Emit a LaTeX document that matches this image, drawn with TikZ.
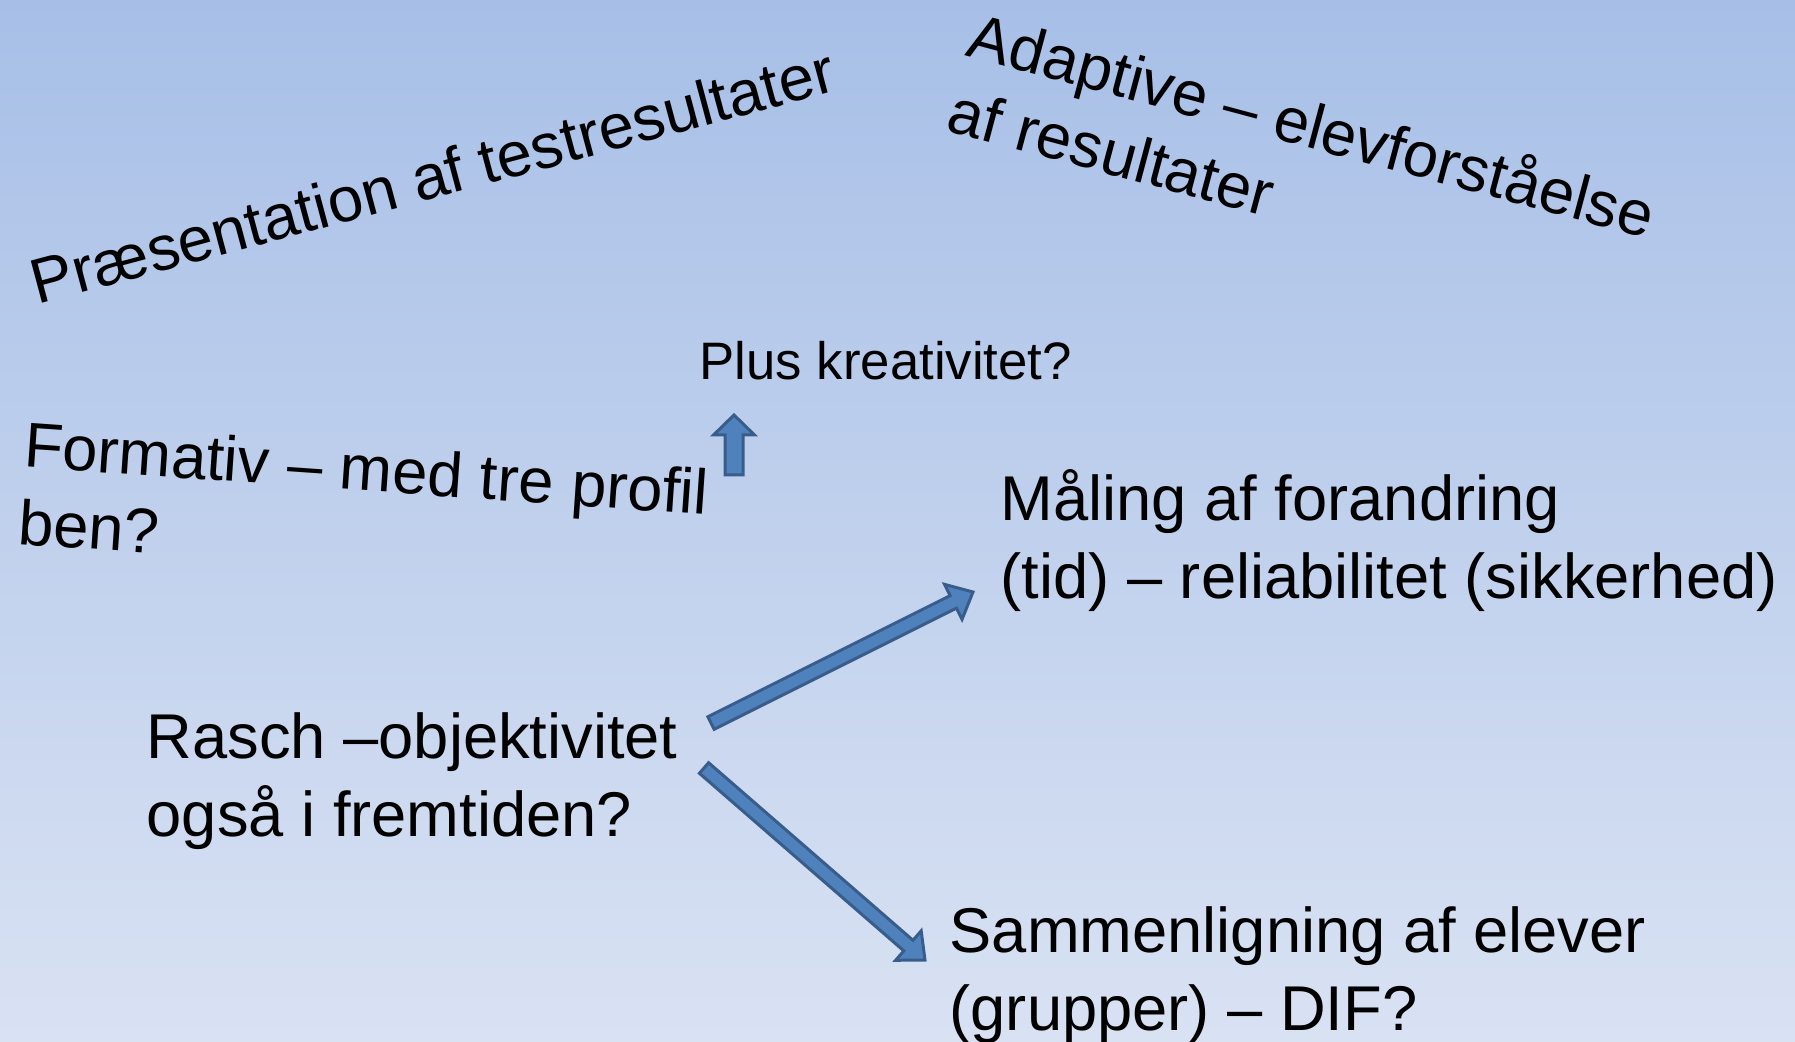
\documentclass[tikz,border=0pt]{standalone}
\usepackage{fontspec}
\setmainfont{Liberation Sans}
\usepackage{tikz}
\usepackage{xcolor}
\usetikzlibrary{calc}

\definecolor{bgtop}{RGB}{167,191,231}
\definecolor{bgbottom}{RGB}{217,226,243}
\definecolor{arrowfill}{RGB}{79,129,189}
\definecolor{arrowline}{RGB}{56,93,138}

\tikzset{
  bigtext/.style={inner sep=0pt, anchor=base west, align=left,
    font=\fontsize{18}{22}\selectfont},
  smalltext/.style={inner sep=0pt, anchor=base west,
    font=\fontsize{15}{18}\selectfont},
  arrowbody/.style={fill=arrowfill, draw=arrowline, line width=0.3mm}
}

% from, to, half shaft, half head, head length
\newcommand{\blockarrow}[5]{%
  \coordinate (neck) at ($(#2)!#5!(#1)$);
  \draw[arrowbody] ($(#1)!#3!90:(#2)$) -- ($(neck)!#3!90:(#2)$)
    -- ($(neck)!#4!90:(#2)$) -- (#2) -- ($(neck)!#4!-90:(#2)$)
    -- ($(neck)!#3!-90:(#2)$) -- ($(#1)!#3!-90:(#2)$) -- cycle;
}

\begin{document}
\begin{tikzpicture}[x=0.1mm, y=-0.1mm]
\useasboundingbox (0,0) rectangle (1795,1042);
\shade [top color=bgtop, bottom color=bgbottom] (0,0) rectangle (1795,1042);

% two-line nodes sit on the baseline of their last line
\node [bigtext, rotate=15] (praes) at (37,305) {Præsentation af testresultater};
\node [bigtext, rotate=-15] (adaptive) at (944,130)
      {Adaptive – elevforståelse\\af resultater};
\node [smalltext] (plus) at (699,380) {Plus kreativitet?};
\node [bigtext, rotate=-4] (formativ) at (17,544)
      {Formativ – med tre profil\\ben?};
\node [bigtext] (maaling) at (1000,598)
      {Måling af forandring\\(tid) – reliabilitet (sikkerhed)};
\node [bigtext] (rasch) at (146,836)
      {Rasch –objektivitet\\også i fremtiden?};
\node [bigtext] (sammen) at (949,1030)
      {Sammenligning af elever\\(grupper) – DIF?};

\coordinate (plustail) at (734,475);
\coordinate (plustip) at (734,415);
\coordinate (maalingtail) at (711,723);
\coordinate (maalingtip) at (973,592);
\coordinate (sammentail) at (704,768);
\coordinate (sammentip) at (925,960);

\blockarrow{plustail}{plustip}{0.9mm}{2.05mm}{2.0mm}
\blockarrow{maalingtail}{maalingtip}{0.7mm}{1.95mm}{2.2mm}
\blockarrow{sammentail}{sammentip}{0.7mm}{1.95mm}{2.2mm}
\end{tikzpicture}
\end{document}
